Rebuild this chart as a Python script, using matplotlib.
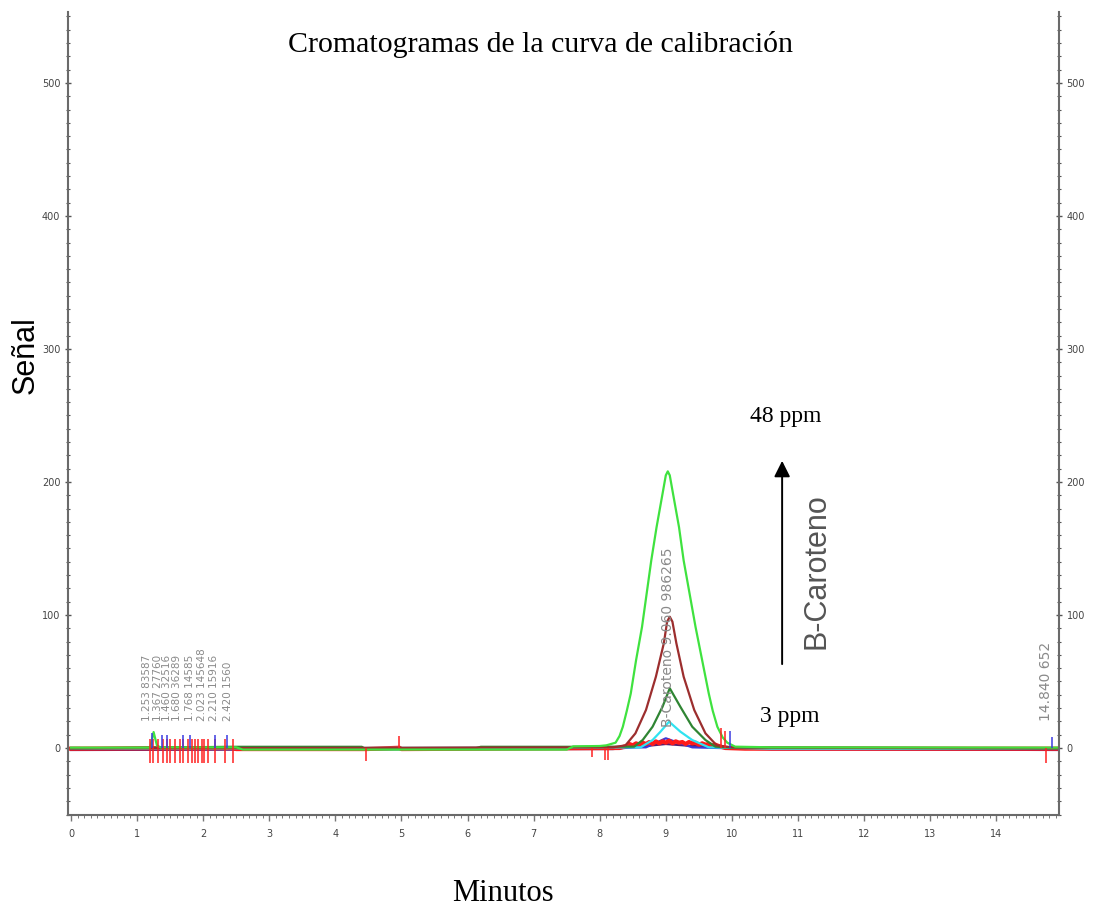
import numpy as np
import matplotlib
matplotlib.use("Agg")
import matplotlib.pyplot as plt
from matplotlib.ticker import MultipleLocator

# ---- traces (time in min, signal) ----
green_t = [0.0, 1.20, 1.25, 1.30, 1.35, 2.50, 2.60, 7.50, 7.60, 8.00, 8.10, 8.24, 8.30, 8.35, 8.41, 8.47,
           8.55, 8.64, 8.71, 8.78, 8.86, 8.95, 9.00, 9.03, 9.06, 9.11, 9.20, 9.27, 9.36, 9.45, 9.55,
           9.65, 9.71, 9.78, 9.86, 9.93, 10.05, 10.60, 14.95]
green_y = [0.3, 0.3, 12.0, 2.0, 0.5, 0.5, -1.2, -1.2, 1.2, 1.5, 2.0, 4.0, 9.0, 16.0, 28.0, 41.0,
           66.0, 91.0, 116.0, 141.0, 166.0, 191.0, 205.0, 208.0, 205.0, 191.0, 166.0, 141.0, 116.0, 91.0, 66.0,
           41.0, 28.0, 16.0, 8.0, 4.0, 1.0, 0.5, 0.3]

brown_t = [0.0, 8.20, 8.39, 8.54, 8.70, 8.85, 8.97, 9.02, 9.06, 9.10, 9.16, 9.27, 9.43, 9.60, 9.77, 10.0, 14.95]
brown_y = [-0.3, 0.5, 2.0, 11.0, 28.6, 53.6, 78.7, 95.0, 98.7, 95.0, 78.7, 53.6, 28.6, 11.0, 2.0, 0.5, -0.3]

dkgreen_t = [0.0, 2.50, 4.40, 4.45, 6.10, 6.20, 7.60, 8.52, 8.65, 8.80, 8.95, 9.06, 9.22, 9.40, 9.60, 9.75, 10.0, 14.95]
dkgreen_y = [-0.3, 0.9, 0.9, -0.5, -0.5, 0.9, 0.9, 1.0, 6.0, 16.0, 31.0, 44.9, 31.0, 16.0, 6.0, 1.0, 0.3, -0.3]

cyan_t = [0.0, 8.62, 8.80, 8.92, 9.05, 9.22, 9.40, 9.65, 10.6, 14.95]
cyan_y = [-0.5, 0.5, 6.0, 12.3, 19.8, 12.3, 6.0, 0.5, -0.5, -0.5]

blue_t = [0.0, 4.90, 8.70, 8.90, 9.00, 9.10, 9.40, 10.6, 14.95]
blue_y = [-0.8, -0.8, 0.5, 5.0, 7.3, 5.5, 0.5, -1.0, -1.0]

purple_t = [0.0, 6.20, 8.20, 8.70, 9.00, 9.40, 10.60, 14.95]
purple_y = [-1.5, -0.8, -0.8, 1.5, 3.0, 1.5, -0.8, -1.5]

red_t = [0.0, 1.20, 2.45, 2.50, 4.47, 4.97, 5.00, 8.30, 8.40, 8.45, 8.50, 8.55, 8.60, 8.65, 8.70, 8.75,
         8.80, 8.85, 8.90, 8.95, 9.00, 9.05, 9.10, 9.15, 9.20, 9.25, 9.30, 9.35, 9.40, 9.45, 9.50,
         9.55, 9.60, 9.65, 9.70, 9.75, 9.80, 9.90, 10.2, 14.95]
red_y = [-0.5, -0.2, 0.0, -0.8, -0.8, 0.2, -0.8, 0.0, 1.5, 3.0, 2.0, 3.5, 2.5, 4.0, 3.0, 4.5,
         3.0, 5.0, 3.5, 5.0, 4.0, 5.5, 3.5, 5.0, 4.0, 4.5, 3.0, 4.5, 3.5, 4.0, 2.5,
         3.5, 2.5, 3.0, 2.0, 2.5, 1.5, 0.0, -0.5, -0.5]

# integration marks
red_mark_t = [1.19, 1.24, 1.32, 1.39, 1.45, 1.50, 1.57, 1.65, 1.69, 1.77, 1.83, 1.88, 1.92, 1.98,
              2.02, 2.07, 2.18, 2.33, 2.45, 4.47, 4.97, 7.88, 8.08, 8.13, 9.84, 9.89, 14.76]
red_mark_lo = [-11, -11, -11, -11, -11, -11, -11, -11, -11, -11, -11, -11, -11, -11,
               -11, -11, -11, -11, -11, -10, 0, -7, -9, -9, 0, 0, -11]
red_mark_hi = [7, 7, 7, 7, 7, 7, 7, 7, 7, 7, 7, 7, 7, 7,
               7, 7, 7, 7, 7, 0, 9, 0, 0, 0, 15, 13, 0]
blue_mark_t = [1.22, 1.37, 1.45, 1.69, 1.80, 2.18, 2.36, 9.97, 14.84]
blue_mark_hi = [11, 10, 10, 10, 10, 10, 10, 13, 8]

# peak annotations
peak_rt = [1.253, 1.367, 1.460, 1.680, 1.768, 2.023, 2.210, 2.420]
peak_area = ["83587", "27760", "32516", "36289", "14585", "145648", "15916", "1560"]
# small sideways nudges so the crowded labels sit side by side
label_dx = [-0.10, -0.05, 0.0, -0.07, 0.04, -0.04, -0.04, -0.04]

traces = [
    (purple_t, purple_y, "#5b1f6b", 1.6),
    (blue_t, blue_y, "#3a3ad6", 1.6),
    (red_t, red_y, "#ff1a1a", 3.0),
    (cyan_t, cyan_y, "#30e3f0", 1.6),
    (dkgreen_t, dkgreen_y, "#2f8533", 1.6),
    (brown_t, brown_y, "#9c2e2e", 1.6),
    (green_t, green_y, "#3fe23f", 1.6),
]

fig = plt.figure(figsize=(10.97, 9.13), dpi=100)
ax = fig.add_axes([0.062, 0.1073, 0.9034, 0.8796])

ax.plot([0.0, 0.12], [0.0, 0.0], color="#3a3ad6", lw=1.6)
for t, y, c, lw in traces:
    ax.plot(t, y, color=c, lw=lw, solid_joinstyle="round")

ax.vlines(red_mark_t, red_mark_lo, red_mark_hi, color="#ff2020", lw=1.1)
ax.vlines(blue_mark_t, 0, blue_mark_hi, color="#3a3ae0", lw=1.1)

for rt, area, dx in zip(peak_rt, peak_area, label_dx):
    ax.text(rt + dx, 20, f"{rt:.3f} {area}", rotation=90, ha="center", va="bottom",
            color="#8a8a8a", fontsize=7.5)
ax.text(9.04, 16, "B-Caroteno 9.060 986265", rotation=90, ha="center", va="bottom",
        color="#8a8a8a", fontsize=10)
ax.text(14.76, 20, "14.840 652", rotation=90, ha="center", va="bottom", color="#8a8a8a", fontsize=10)

# concentration arrow
ax.annotate("", xy=(10.76, 218), xytext=(10.76, 61),
            arrowprops=dict(arrowstyle="-|>", color="black", lw=1.4, mutation_scale=24))
ax.text(10.82, 249, "48 ppm", family="Liberation Serif", fontsize=17, ha="center", va="center")
ax.text(10.88, 24, "3 ppm", family="Liberation Serif", fontsize=17, ha="center", va="center")
ax.text(11.28, 133, "B-Caroteno", rotation=90, family="Liberation Sans", fontsize=22,
        color="#555555", ha="center", va="center")

ax.set_xlim(-0.045, 14.95)
ax.set_ylim(-50.4, 553.4)
ax.xaxis.set_major_locator(MultipleLocator(1))
ax.xaxis.set_minor_locator(MultipleLocator(0.1))
ax.yaxis.set_major_locator(MultipleLocator(100))
ax.yaxis.set_minor_locator(MultipleLocator(10))

for s in ["left", "right", "bottom"]:
    ax.spines[s].set_color("#6a6a6a")
    ax.spines[s].set_linewidth(1.5)
ax.spines["top"].set_visible(False)

ax.tick_params(axis="y", which="both", left=True, right=True, labelleft=True, labelright=True,
               direction="inout", colors="#555555", labelsize=7, labelcolor="#444444", pad=3)
ax.tick_params(axis="y", which="major", length=5, width=1)
ax.tick_params(axis="y", which="minor", length=3, width=0.8)
ax.tick_params(axis="x", which="both", direction="out", colors="#777777", labelsize=7,
               labelcolor="#444444", pad=6)
ax.tick_params(axis="x", which="major", length=4, width=1)
ax.tick_params(axis="x", which="minor", length=2.5, width=0.7)

fig.text(0.493, 0.951, "Cromatogramas de la curva de calibración", family="Liberation Serif",
         fontsize=21.5, ha="center", va="center")
fig.text(0.023, 0.611, "Señal", rotation=90, family="Liberation Sans", fontsize=22,
         ha="center", va="center")
fig.text(0.4585, 0.021, "Minutos", family="Liberation Serif", fontsize=22, ha="center", va="center")

fig.savefig("out.png", dpi=100)
